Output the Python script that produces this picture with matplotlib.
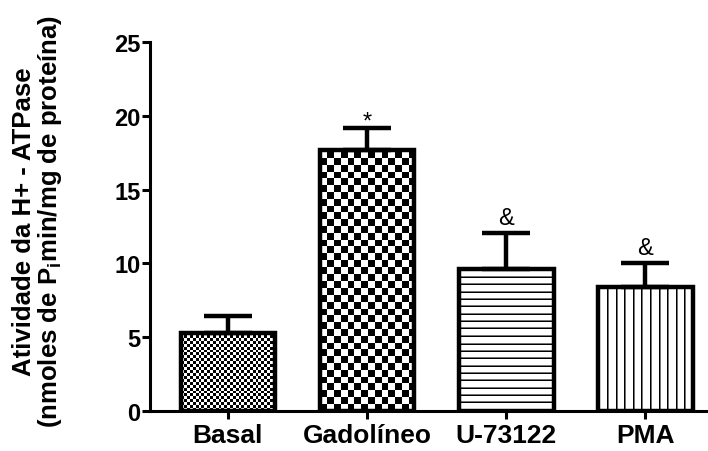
import numpy as np
import matplotlib
matplotlib.use('Agg')
import matplotlib.pyplot as plt

plt.rcParams['font.family'] = ['Liberation Sans', 'DejaVu Sans']
plt.rcParams['font.weight'] = 'bold'
plt.rcParams['mathtext.fontset'] = 'custom'
plt.rcParams['mathtext.rm'] = 'Liberation Sans:bold'
plt.rcParams['mathtext.default'] = 'rm'

groups = ['Basal', 'Gadolíneo', 'U-73122', 'PMA']
means = [5.3, 17.7, 9.65, 8.4]
sems = [1.15, 1.5, 2.4, 1.65]
marks = ['', '*', '&', '&']
# fill style per bar: (kind, period in px)
fills = [('checker', 5.7), ('checker', 13.6), ('hlines', 7.3), ('vlines', 8.6)]

fig = plt.figure(figsize=(7.08, 4.52), dpi=100)
ax = fig.add_axes([150 / 708, 40 / 452, 558 / 708, 369 / 452])

x = np.arange(len(groups))
ax.set_xlim(-0.56, 3.45)
ax.set_ylim(0, 25)

bars = ax.bar(x, means, width=0.68, facecolor='none', edgecolor='black',
              linewidth=3.2, zorder=3)


def pattern_fill(bar, kind, period):
    x0, y0 = bar.get_x(), bar.get_y()
    w, h = bar.get_width(), bar.get_height()
    p0 = ax.transData.transform((x0, y0))
    p1 = ax.transData.transform((x0 + w, y0 + h))
    nx = int(round(p1[0] - p0[0]))
    ny = int(round(p1[1] - p0[1]))
    cols = np.arange(nx)
    rows = np.arange(ny)
    if kind == 'checker':
        cell = period / 2
        img = (np.add.outer(rows // cell, cols // cell) % 2).astype(float)
    elif kind == 'hlines':
        ph = rows % period
        line = np.where(ph < 1, 0.0, np.where(ph < 2, 0.45, 1.0))
        img = np.repeat(line[:, None], nx, axis=1)
    else:
        ph = cols % period
        line = np.where(ph < 1, 0.0, np.where(ph < 2, 0.45, 1.0))
        img = np.repeat(line[None, :], ny, axis=0)
    im = ax.imshow(img, cmap='gray', vmin=0, vmax=1, origin='lower',
                   extent=(x0, x0 + w, y0, y0 + h), interpolation='nearest',
                   aspect='auto', zorder=2)
    im.set_clip_path(bar)


for bar, (kind, period) in zip(bars, fills):
    pattern_fill(bar, kind, period)
ax.set_xlim(-0.56, 3.45)
ax.set_ylim(0, 25)

# upper error bars only
ax.errorbar(x, means, yerr=[np.zeros(len(sems)), sems], fmt='none',
            ecolor='black', elinewidth=3.2, capsize=17, capthick=3.2, zorder=2.5)

for xi, m, s, t in zip(x, means, sems, marks):
    if t:
        # the asterisk glyph sits high in its box, so pull it down a bit
        off = -0.35 if t == '*' else 0.25
        ax.text(xi, m + s + off, t, ha='center', va='bottom', fontsize=17,
                fontweight='normal')

ax.spines['top'].set_visible(False)
ax.spines['right'].set_visible(False)
ax.spines['left'].set_linewidth(2.2)
ax.spines['bottom'].set_linewidth(2.2)
ax.set_yticks([0, 5, 10, 15, 20, 25])
ax.set_xticks(x)
ax.set_xticklabels(groups, fontsize=19)
ax.tick_params(axis='both', width=2.2, length=6)
ax.tick_params(axis='y', labelsize=17, pad=1)
ax.tick_params(axis='x', pad=3)

fig.text(38 / 708, 1 - 222 / 452,
         'Atividade da H+ - ATPase\n(nmoles de P$_\\mathregular{i}$min/mg de proteína)',
         rotation=90, ha='center', va='center', multialignment='center',
         fontsize=18.5, fontweight='bold', linespacing=1.0)

fig.savefig('out.png', dpi=100)
